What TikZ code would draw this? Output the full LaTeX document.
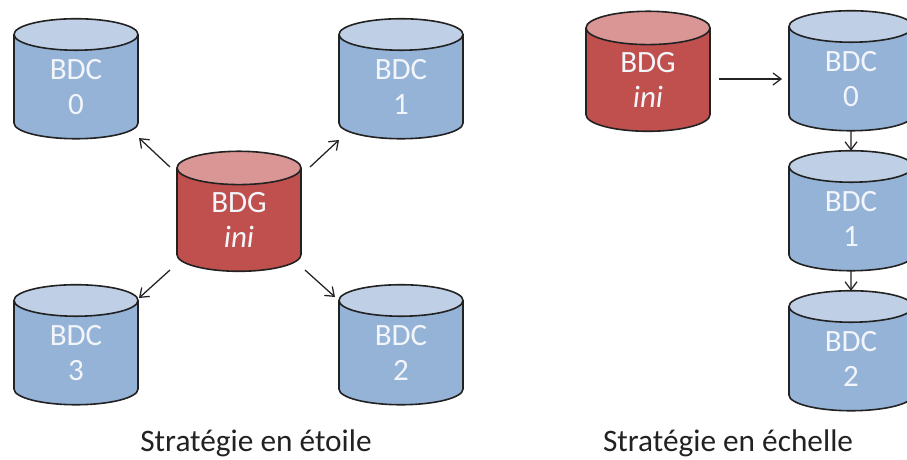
\documentclass[tikz,border=0pt]{standalone}
\usepackage{fontspec}
\setmainfont{Carlito}
\usetikzlibrary{shapes.geometric,arrows.meta}
\definecolor{bluebody}{HTML}{95B3D7}
\definecolor{bluetop}{HTML}{BFD0E6}
\definecolor{redbody}{HTML}{C0504D}
\definecolor{redtop}{HTML}{D99694}
\definecolor{inkline}{HTML}{222222}
\definecolor{labelink}{HTML}{F2F5FA}
\tikzset{
  x=1pt,y=-1pt,
  drum/.style={cylinder,shape border rotate=90,aspect=0.6,draw=inkline,line width=1.6pt,
    minimum width=124pt,minimum height=120pt,inner sep=0pt,outer sep=0pt,cylinder uses custom fill,
    align=center,text=labelink,font=\fontsize{31}{35.5}\selectfont},
  bdc/.style={drum,cylinder body fill=bluebody,cylinder end fill=bluetop},
  bdg/.style={drum,cylinder body fill=redbody,cylinder end fill=redtop},
  arr/.style={draw=inkline,line width=1.25pt,-{Straight Barb[length=8pt,width=12pt,line width=1.25pt]}},
  caption/.style={font=\fontsize{31.3}{35}\selectfont,text=inkline,inner sep=0pt}
}
\begin{document}
\begin{tikzpicture}
\path[use as bounding box] (0,0) rectangle (907,459);
\clip (0,0) rectangle (907,459);
\fill[white] (0,0) rectangle (907,459);
\node[bdc] (b0) at (76,87) {BDC\\0};
\node[bdc] (b1) at (401,87) {BDC\\1};
\node[bdg] (ini) at (239,220) {BDG\\\textit{ini}};
\node[bdc] (b3) at (76,353) {BDC\\3};
\node[bdc] (b2) at (401,353) {BDC\\2};
\node[bdg] (ini2) at (648,80) {BDG\\\textit{ini}};
\node[bdc] (c0) at (851,79) {BDC\\0};
\node[bdc] (c1) at (851,219) {BDC\\1};
\node[bdc] (c2) at (851,359) {BDC\\2};
\coordinate (s0) at (170,167);
\coordinate (e0) at (139,138);
\coordinate (s1) at (310,167);
\coordinate (e1) at (339,140);
\coordinate (s3) at (170,270);
\coordinate (e3) at (139,298);
\coordinate (s2) at (305,270);
\coordinate (e2) at (335,297);
\coordinate (si) at (719,79);
\coordinate (ei) at (782,79);
\draw[arr] (s0) -- (e0);
\draw[arr] (s1) -- (e1);
\draw[arr] (s3) -- (e3);
\draw[arr] (s2) -- (e2);
\draw[arr] (si) -- (ei);
\draw[arr] (c0.south) -- (c1.north);
\draw[arr] (c1.south) -- (c2.north);
\node[caption] (capa) at (256,443) {Stratégie en étoile};
\node[caption] (capb) at (728,443) {Stratégie en échelle};
\end{tikzpicture}
\end{document}
